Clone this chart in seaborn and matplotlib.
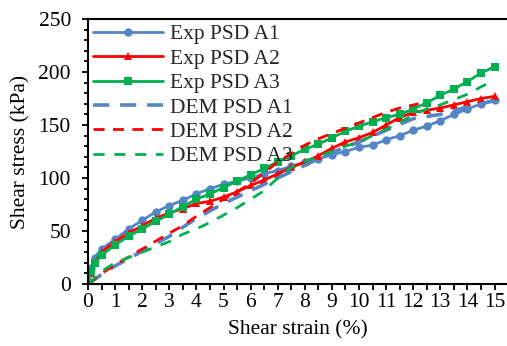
import numpy as np
import pandas as pd
import seaborn as sns
import matplotlib
matplotlib.use("Agg")
import matplotlib.pyplot as plt
from matplotlib.ticker import MultipleLocator

# ---- data ----
exp_x = [0, 0.1, 0.25, 0.5, 1, 1.5, 2, 2.5, 3, 3.5, 4, 4.5, 5, 5.5, 6, 6.5, 7, 7.5,
         8, 8.5, 9, 9.5, 10, 10.5, 11, 11.5, 12, 12.5, 13, 13.5, 14, 14.5, 15]
exp_a1 = [0, 15, 25, 33, 42, 52, 60, 68, 74, 79, 85, 90, 94, 97, 100, 104, 107, 111,
          115, 118, 122, 125, 129, 131, 136, 140, 145, 149, 154, 160, 165, 170, 174]
exp_a2 = [0, 10, 20, 30, 40, 48, 55, 62, 67, 71, 76, 78, 82, 87, 93, 98, 104, 110,
          115, 121, 128, 134, 138, 143, 150, 157, 162, 164, 166, 169, 172, 175, 177]
exp_a3 = [0, 12, 20, 27, 37, 45, 52, 59, 66, 73, 80, 85, 91, 97, 103, 109, 115, 121,
          127, 132, 138, 144, 149, 153, 157, 160, 165, 171, 178, 184, 191, 199, 205]

dem_a1_x = [0, 0.5, 1, 2, 3, 4, 5, 6, 7, 8, 9, 10, 11, 12, 13, 14, 15]
dem_a1 = [0, 9, 17, 31, 45, 62, 76, 88, 100, 112, 124, 134, 145, 156, 160, 167, 173]

dem_a2_x = [0, 0.5, 1, 2, 3, 3.5, 4, 4.5, 5, 5.5, 6, 6.5, 7, 7.5, 8, 8.5, 9, 9.5,
            10, 10.5, 11, 11.5, 12.2]
dem_a2 = [0, 10, 18, 33, 48, 55, 64, 72, 80, 87, 95, 105, 115, 123, 131, 137, 142, 147,
          152, 157, 162, 166, 170]

dem_a3_x = [0, 0.5, 1, 2, 3, 3.5, 4, 4.5, 5, 5.5, 6, 6.5, 7, 7.5, 8, 8.5, 9, 9.5,
            10, 10.5, 11, 11.5, 12, 12.5, 13, 13.5, 14, 14.5, 14.9]
dem_a3 = [0, 12, 20, 30, 40, 47, 52, 58, 65, 72, 80, 88, 100, 110, 116, 120, 125, 130,
          134, 140, 146, 152, 160, 165, 169, 174, 179, 186, 191]

labels = ["Exp PSD A1", "Exp PSD A2", "Exp PSD A3",
          "DEM PSD A1", "DEM PSD A2", "DEM PSD A3"]
x_ticks = list(range(0, 16))
y_ticks = [0, 50, 100, 150, 200, 250]

BLUE = "#5585C5"
RED = "#FF0000"
GREEN = "#00B050"
FS = 15.5

sns.set_theme(style="white")
plt.rcParams["font.family"] = ["Liberation Serif", "DejaVu Serif"]

fig = plt.figure(figsize=(5.07, 3.46), dpi=100)
ax = fig.add_axes([88 / 507, 1 - 284 / 346, 419 / 507, 265 / 346])

def exp_line(y, color, marker, ms, label):
    sns.lineplot(x=exp_x, y=y, ax=ax, color=color, marker=marker, markersize=ms,
                 markeredgewidth=0, linewidth=2.0, label=label, sort=False)

def dem_line(x, y, color, dashes, lw, label):
    sns.lineplot(x=x, y=y, ax=ax, color=color, linewidth=lw, label=label, sort=False)
    ax.lines[-1].set_dashes(dashes)

exp_line(exp_a1, BLUE, "o", 6, labels[0])
exp_line(exp_a2, RED, "^", 6, labels[1])
exp_line(exp_a3, GREEN, "s", 5.5, labels[2])
dem_line(dem_a1_x, dem_a1, BLUE, (4.5, 3.0), 2.6, labels[3])
dem_line(dem_a2_x, dem_a2, RED, (4.0, 3.0), 2.0, labels[4])
dem_line(dem_a3_x, dem_a3, GREEN, (4.0, 3.5), 2.0, labels[5])

ax.set_xlim(0, 419 / 27.1)
ax.set_ylim(0, 250)
ax.set_xticks(x_ticks)
ax.set_yticks(y_ticks)
ax.xaxis.set_minor_locator(MultipleLocator(0.5))
ax.yaxis.set_minor_locator(MultipleLocator(10))
ax.tick_params(axis="both", which="both", direction="out", colors="black",
               labelsize=FS, width=1.3)
ax.tick_params(axis="x", which="both", length=4.3, bottom=True, pad=2)
ax.tick_params(axis="y", which="major", length=4.3, left=True, pad=8)
ax.tick_params(axis="y", which="minor", length=3.0, left=True)

for side in ["left", "bottom", "top"]:
    ax.spines[side].set_visible(True)
    ax.spines[side].set_color("black")
    ax.spines[side].set_linewidth(1.5)
ax.spines["right"].set_visible(False)

ax.set_xlabel("Shear strain (%)", fontsize=FS, color="black", labelpad=6)
ax.set_ylabel("Shear stress (kPa)", fontsize=FS, color="black", labelpad=6)

ax.legend(loc="upper left", bbox_to_anchor=(0, 1), frameon=False, fontsize=FS,
          handlelength=3.25, handletextpad=0.33, labelspacing=0.2,
          borderpad=0.25, borderaxespad=0.0)

fig.savefig("out.png", dpi=100)
